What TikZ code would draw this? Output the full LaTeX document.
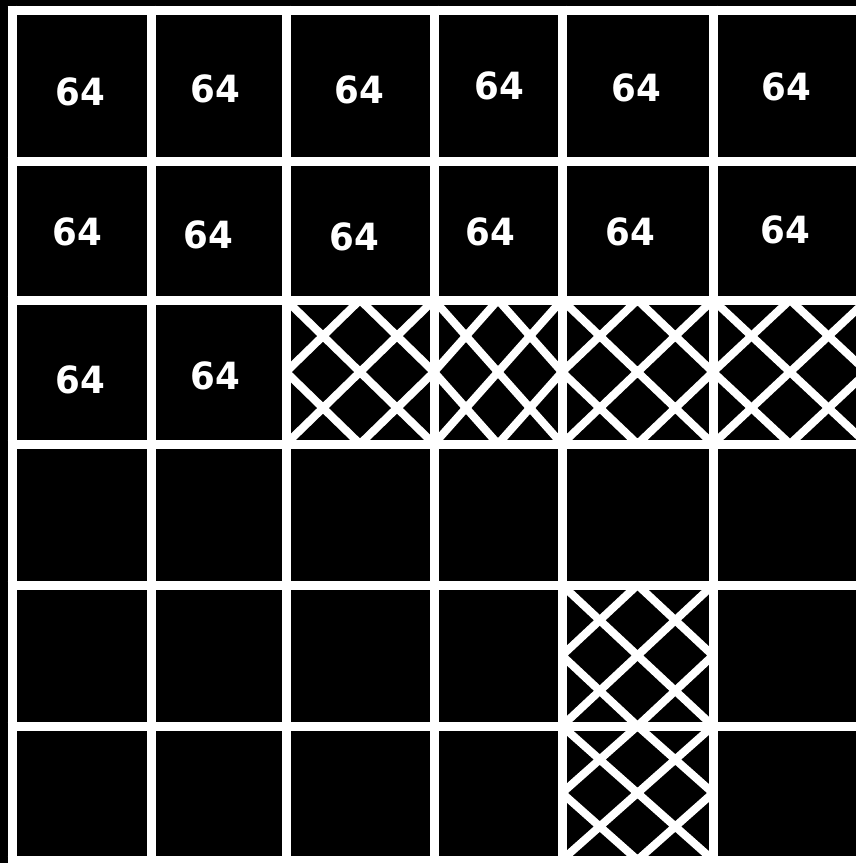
\documentclass[tikz,border=0pt]{standalone}
\usepackage{fontspec}
\usepackage{graphicx}
\setmainfont{DejaVu Sans}
\begin{document}
\begin{tikzpicture}[x=1pt,y=-1pt,
  gridline/.style={white,line width=9pt},
  hatch/.style={white,line width=8pt},
  num/.style={text=white,font=\fontsize{37.5}{40}\selectfont\bfseries,inner sep=0pt}]
\fill[black] (0,0) rectangle (856,863);
\useasboundingbox (0,0) rectangle (856,863);
% hatched cells
\foreach \l/\t/\r/\b in {286/300/434/444, 434/300/562/444, 562/300/713/444, 713/300/867/444, 562/585/713/726, 562/726/713/860} {
  \begin{scope}
    \clip (\l,\t) rectangle (\r,\b);
    \draw[hatch] (\l,\t) -- (\r,\b) (\l,\b) -- (\r,\t);
    \draw[hatch] ({(\l+\r)/2},\t) -- (\l,{(\t+\b)/2}) -- ({(\l+\r)/2},\b) -- (\r,{(\t+\b)/2}) -- cycle;
  \end{scope}
}
% grid
\foreach \y in {10,161,300,444,585,726,860}
  \draw[gridline] (7.5,\y) -- (856,\y);
\foreach \x in {12,151,286,434,562,713}
  \draw[gridline] (\x,5.5) -- (\x,863);
% numbers
\node[num] (a1) at (80,92) {\scalebox{0.95}[1]{64}};
\node[num] (a2) at (215,89) {\scalebox{0.95}[1]{64}};
\node[num] (a3) at (359,90) {\scalebox{0.95}[1]{64}};
\node[num] (a4) at (499,86) {\scalebox{0.95}[1]{64}};
\node[num] (a5) at (636,88) {\scalebox{0.95}[1]{64}};
\node[num] (a6) at (786,87) {\scalebox{0.95}[1]{64}};
\node[num] (b1) at (77,232) {\scalebox{0.95}[1]{64}};
\node[num] (b2) at (208,235) {\scalebox{0.95}[1]{64}};
\node[num] (b3) at (354,237) {\scalebox{0.95}[1]{64}};
\node[num] (b4) at (490,232) {\scalebox{0.95}[1]{64}};
\node[num] (b5) at (630,232) {\scalebox{0.95}[1]{64}};
\node[num] (b6) at (785,230) {\scalebox{0.95}[1]{64}};
\node[num] (c1) at (80,380) {\scalebox{0.95}[1]{64}};
\node[num] (c2) at (215,376) {\scalebox{0.95}[1]{64}};
\end{tikzpicture}
\end{document}
